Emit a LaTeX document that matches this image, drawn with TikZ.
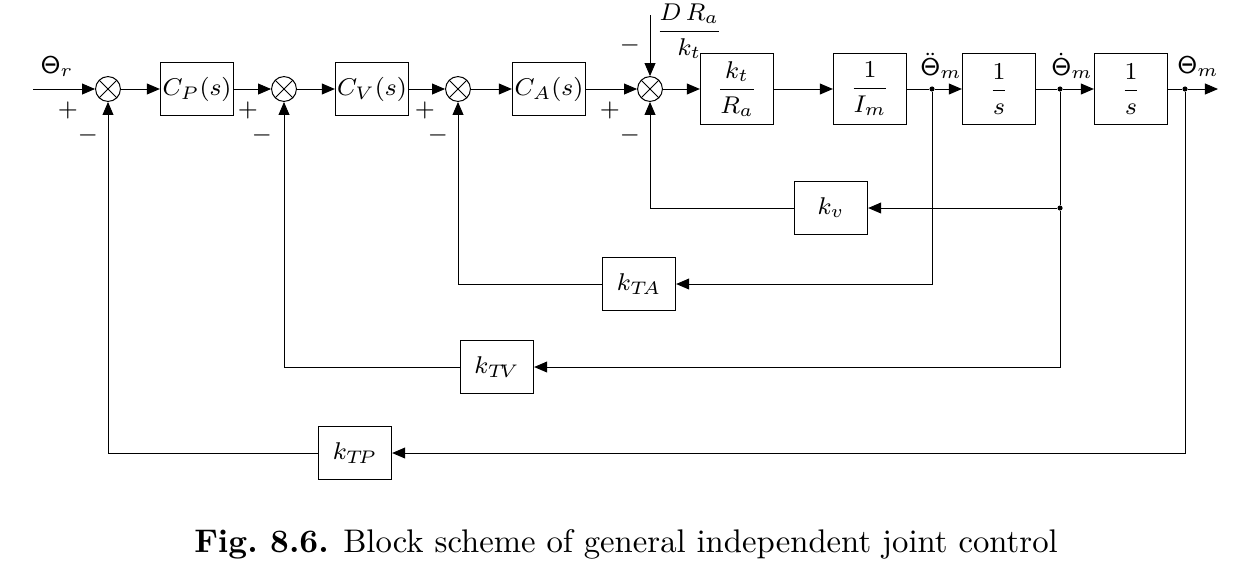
\documentclass[tikz,border=0pt]{standalone}
\usepackage{amsmath,amssymb}
\usetikzlibrary{arrows.meta}

\tikzset{
  block/.style={draw, line width=0.5pt, minimum width=24pt, minimum height=17.5pt, inner sep=0pt, font=\footnotesize},
  bigblock/.style={block, minimum height=23.5pt},
  sumnode/.style={draw, circle, minimum size=8.2pt, inner sep=0pt,
    path picture={\draw (path picture bounding box.north west) -- (path picture bounding box.south east)
                        (path picture bounding box.north east) -- (path picture bounding box.south west);}},
  branch/.style={circle, fill, inner sep=0pt, minimum size=1.7pt},
  sig/.style={-{Triangle[length=4.3pt,width=3.6pt]}},
  sgn/.style={font=\footnotesize, inner sep=0.5pt},
}
\newcommand{\Th}{\mathsf{\Theta}}

\begin{document}
\begin{tikzpicture}[x=0.33pt, y=-0.33pt, line width=0.33pt]
    \useasboundingbox (0,0) rectangle (1239,578);
    % forward path
    \coordinate (in) at (33,89);
    \node[sumnode] (s1) at (108,89) {};
    \node[block] (cp) at (197,89) {$C_P(s)$};
    \node[sumnode] (s2) at (284,89) {};
    \node[block] (cv) at (372,89) {$C_V(s)$};
    \node[sumnode] (s3) at (458,89) {};
    \node[block] (ca) at (549,89) {$C_A(s)$};
    \node[sumnode] (s4) at (650,89) {};
    \node[bigblock] (kr) at (737,89) {$\dfrac{k_t}{R_a}$};
    \node[bigblock] (im) at (870,89) {$\dfrac{1}{I_m}$};
    \node[branch] (d1) at (932,89) {};
    \node[bigblock] (i1) at (999,89) {$\dfrac{1}{s}$};
    \node[branch] (d2) at (1060,89) {};
    \node[bigblock] (i2) at (1131,89) {$\dfrac{1}{s}$};
    \node[branch] (d3) at (1185,89) {};
    \coordinate (out) at (1218,89);
    \coordinate (dist) at (650,15);
    % feedback gains
    \node[block] (kv) at (831,208) {$k_v$};
    \node[branch] (d2b) at (1060,208) {};
    \node[block] (kta) at (639,284) {$k_{T\!A}$};
    \node[block] (ktv) at (497,367) {$k_{T\!V}$};
    \node[block] (ktp) at (355,453) {$k_{T\!P}$};
    % connections
    \draw[sig] (in) -- (s1);
    \draw[sig] (s1) -- (cp);
    \draw[sig] (cp) -- (s2);
    \draw[sig] (s2) -- (cv);
    \draw[sig] (cv) -- (s3);
    \draw[sig] (s3) -- (ca);
    \draw[sig] (ca) -- (s4);
    \draw[sig] (s4) -- (kr);
    \draw[sig] (kr) -- (im);
    \draw (im) -- (d1);
    \draw[sig] (d1) -- (i1);
    \draw (i1) -- (d2);
    \draw[sig] (d2) -- (i2);
    \draw (i2) -- (d3);
    \draw[sig] (d3) -- (out);
    \draw[sig] (dist) -- (s4);
    \draw (d2) -- (d2b);
    \draw[sig] (d2b) -- (kv);
    \draw[sig] (kv.west) -| (s4.south);
    \draw[sig] (d1) |- (kta.east);
    \draw[sig] (kta.west) -| (s3.south);
    \draw[sig] (d2b) |- (ktv.east);
    \draw[sig] (ktv.west) -| (s2.south);
    \draw[sig] (d3) |- (ktp.east);
    \draw[sig] (ktp.west) -| (s1.south);
    % signal labels
    \node[sgn] (lr) at (57,67) {$\Th_r$};
    \node[sgn] (ldd) at (941,66) {$\ddot{\Th}_m$};
    \node[sgn] (ld) at (1072,66) {$\dot{\Th}_m$};
    \node[sgn] (lm) at (1198,67) {$\Th_m$};
    \node[sgn, anchor=west] (lw) at (654,31) {$\dfrac{D\,R_a}{k_t}$};
    % signs
    \node[sgn] at (68,110) {$+$};
    \node[sgn] at (88,135) {$-$};
    \node[sgn] at (248,110) {$+$};
    \node[sgn] at (262,135) {$-$};
    \node[sgn] at (425,110) {$+$};
    \node[sgn] at (438,135) {$-$};
    \node[sgn] at (610,110) {$+$};
    \node[sgn] at (630,135) {$-$};
    \node[sgn] at (630,45) {$-$};
    % caption
    \node[font=\fontsize{10.8}{13}\selectfont] (cap) at (626,544) {\textbf{Fig.~8.6.} Block scheme of general independent joint control};
\end{tikzpicture}
\end{document}
